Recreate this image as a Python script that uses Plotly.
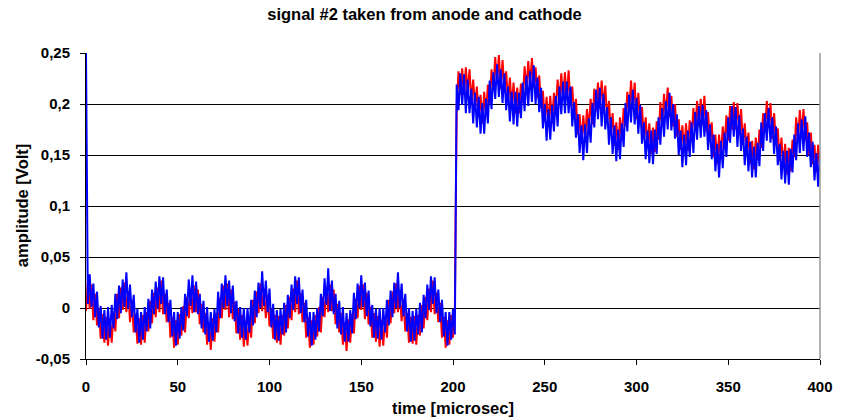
import plotly.graph_objects as go

# sample times in microseconds (1 us sampling)
time_us = list(range(0, 401))

# cathode signal (red), millivolts
red_mv = [
    -3, 26, -1, 23, -12, 14, -17, 0, -30, -6,
    -34, -9, -37, -10, -34, -5, -23, 14, -10, 20,
    -2, 25, -4, 16, -14, 8, -24, -6, -35, -10,
    -36, -7, -34, -4, -23, 7, -15, 15, -9, 20,
    -4, 27, -6, 14, -14, 5, -29, -9, -39, -12,
    -36, -6, -27, 2, -24, 11, -10, 19, -5, 22,
    -4, 18, -16, 4, -24, -5, -36, -14, -41, -10,
    -33, -5, -24, 10, -10, 22, -2, 24, -9, 18,
    -11, 6, -25, -1, -31, -7, -38, -12, -37, -9,
    -29, 8, -15, 16, -5, 24, -3, 19, -10, 13,
    -18, -1, -30, -7, -34, -8, -36, -7, -27, 3,
    -20, 11, -12, 19, -4, 27, -6, 15, -14, 5,
    -29, -9, -39, -12, -36, -7, -28, 1, -24, 11,
    -9, 20, -4, 23, -3, 18, -16, 4, -24, -5,
    -36, -14, -42, -11, -34, -6, -25, 9, -10, 22,
    -2, 23, -11, 15, -16, 1, -29, -5, -33, -8,
    -38, -12, -37, -9, -29, 8, -15, 16, -5, 24,
    -4, 17, -13, 9, -23, -5, -34, -9, -35, -8,
    -36, -7, -27, 3, -20, 11, -12, 19, -4, 27,
    -6, 15, -14, 5, -29, -9, -39, -12, -36, -7,
    -29, -2, 198, 232, 209, 235, 209, 236, 211, 234,
    202, 224, 197, 217, 187, 209, 181, 212, 190, 219,
    200, 234, 214, 246, 222, 248, 215, 243, 214, 232,
    202, 226, 197, 221, 191, 216, 191, 220, 201, 237,
    213, 242, 219, 245, 216, 236, 206, 228, 196, 213,
    183, 207, 180, 208, 181, 211, 193, 224, 201, 230,
    204, 231, 204, 233, 198, 217, 187, 205, 170, 190,
    161, 189, 165, 195, 175, 205, 180, 215, 193, 221,
    196, 223, 197, 218, 184, 203, 173, 191, 159, 182,
    155, 187, 166, 196, 178, 212, 192, 223, 197, 221,
    185, 211, 181, 197, 165, 187, 157, 181, 151, 177,
    153, 183, 165, 202, 179, 210, 188, 216, 187, 208,
    178, 200, 168, 185, 155, 179, 153, 181, 154, 184,
    165, 196, 174, 203, 178, 205, 179, 208, 173, 192,
    163, 182, 148, 170, 141, 170, 147, 178, 159, 189,
    164, 198, 175, 202, 175, 201, 174, 195, 161, 181,
    152, 172, 141, 164, 136, 167, 145, 175, 157, 191,
    172, 203, 177, 201, 166, 191, 160, 176, 144, 167,
    137, 161, 131, 157, 134, 165, 148, 187, 164, 194,
    170, 195, 164, 182, 150, 172, 141, 160, 133, 160,
    136,
]

# anode signal (blue), millivolts
blue_mv = [
    250, 4, 33, 1, 24, -9, 16, -19, 2, -30,
    -2, -31, 1, -29, 3, -20, 14, -11, 22, -5,
    28, 1, 35, -1, 23, -9, 13, -24, -1, -34,
    -4, -31, 1, -23, 9, -20, 18, -6, 26, -1,
    31, 4, 30, -6, 18, -14, 8, -28, -4, -37,
    -4, -30, 1, -22, 14, -8, 28, 2, 32, -4,
    26, -6, 14, -20, 7, -26, 1, -33, -4, -32,
    -1, -24, 16, -10, 24, 0, 32, 2, 27, -5,
    22, -13, 7, -25, 1, -29, 0, -31, 0, -24,
    8, -17, 17, -9, 25, 0, 36, 2, 27, -4,
    19, -19, 4, -31, -2, -32, -1, -26, 5, -24,
    13, -10, 23, -2, 31, 4, 30, -5, 18, -14,
    8, -28, -4, -37, -4, -31, 0, -23, 14, -8,
    29, 3, 39, -3, 27, -6, 14, -20, 7, -26,
    1, -33, -5, -33, -2, -25, 15, -11, 24, 0,
    32, 1, 25, -8, 17, -18, 3, -29, -1, -30,
    0, -31, 0, -24, 8, -17, 17, -9, 25, 0,
    35, 0, 24, -8, 14, -23, 0, -33, -3, -32,
    -1, -26, 5, -24, 13, -10, 23, -2, 31, 4,
    30, -5, 18, -14, 8, -28, -4, -37, -4, -31,
    -1, -26, 219, 194, 230, 199, 229, 191, 224, 191,
    215, 181, 211, 177, 207, 171, 201, 171, 205, 181,
    223, 195, 231, 205, 239, 207, 234, 201, 230, 194,
    217, 183, 212, 180, 212, 178, 211, 186, 221, 193,
    228, 198, 232, 202, 238, 200, 226, 192, 216, 176,
    200, 164, 195, 165, 199, 173, 208, 178, 217, 190,
    222, 191, 222, 191, 217, 178, 202, 167, 190, 152,
    179, 145, 180, 152, 186, 162, 201, 177, 214, 185,
    216, 178, 210, 175, 197, 160, 187, 151, 179, 144,
    175, 146, 181, 158, 201, 173, 209, 182, 214, 180,
    206, 171, 199, 161, 182, 146, 174, 142, 174, 141,
    175, 151, 187, 160, 196, 168, 203, 175, 211, 174,
    200, 166, 190, 150, 174, 138, 170, 140, 174, 148,
    182, 152, 192, 165, 198, 167, 199, 168, 194, 155,
    180, 146, 170, 134, 161, 128, 164, 137, 172, 148,
    187, 162, 198, 168, 197, 158, 189, 154, 176, 140,
    168, 134, 163, 128, 158, 128, 162, 139, 182, 154,
    191, 164, 196, 162, 187, 151, 178, 140, 161, 126,
    154, 122, 154, 121, 156, 133, 170, 145, 181, 152,
    185, 154, 188, 148, 172, 138, 163, 125, 152, 119,
    153,
]

y_tickvals = [-0.05, 0, 0.05, 0.1, 0.15, 0.2, 0.25]
y_ticktext = ["-0,05", "0", "0,05", "0,1", "0,15", "0,2", "0,25"]
x_tickvals = [0, 50, 100, 150, 200, 250, 300, 350, 400]

title_text = "signal #2 taken from anode and cathode"
x_title = "time [microsec]"
y_title = "amplitude [Volt]"

FONT = "Liberation Sans, Arial, sans-serif"

red_v = [v / 1000 for v in red_mv]
blue_v = [v / 1000 for v in blue_mv]

fig = go.Figure()
fig.add_trace(go.Scatter(x=time_us, y=red_v, mode="lines",
                         line=dict(color="#FF0000", width=2.0),
                         showlegend=False, hoverinfo="skip"))
fig.add_trace(go.Scatter(x=time_us, y=blue_v, mode="lines",
                         line=dict(color="#0000FF", width=2.0),
                         showlegend=False, hoverinfo="skip"))

fig.update_layout(
    width=849, height=419,
    margin=dict(l=86, r=29, t=53, b=60),
    paper_bgcolor="white", plot_bgcolor="white",
    title=dict(text=title_text, x=0.5, xref="container", xanchor="center",
               y=1 - 14 / 419, yref="container", yanchor="middle",
               font=dict(family=FONT, size=16.5, color="black", weight="bold")),
    font=dict(family=FONT, color="black"),
)

fig.update_xaxes(
    range=[0, 400], tickvals=x_tickvals, ticks="outside", ticklen=5,
    tickcolor="black", tickwidth=1, showgrid=False, zeroline=False,
    showline=True, linecolor="black", linewidth=1,
    tickfont=dict(family=FONT, size=15, color="black", weight="bold"),
    ticklabelstandoff=9,
)
fig.update_yaxes(
    range=[-0.05, 0.25], tickvals=y_tickvals, ticktext=y_ticktext,
    ticks="outside", ticklen=5, tickcolor="black", tickwidth=1,
    showgrid=True, gridcolor="black", gridwidth=1, zeroline=False,
    showline=True, linecolor="black", linewidth=1,
    tickfont=dict(family=FONT, size=15, color="black", weight="bold"),
    ticklabelstandoff=7,
)

# right border of the plot area (grey)
fig.add_shape(type="line", xref="paper", yref="paper", x0=1, x1=1, y0=0, y1=1,
              line=dict(color="#999999", width=1.5))

fig.add_annotation(text=x_title, xref="paper", yref="paper", x=0.5, y=-0.16,
                   xanchor="center", yanchor="middle", showarrow=False,
                   font=dict(family=FONT, size=16.5, color="black", weight="bold"))
fig.add_annotation(text=y_title, xref="paper", yref="paper", x=-0.087, y=0.5,
                   xanchor="center", yanchor="middle", showarrow=False, textangle=-90,
                   font=dict(family=FONT, size=16.5, color="black", weight="bold"))

fig.write_html("out.html")
